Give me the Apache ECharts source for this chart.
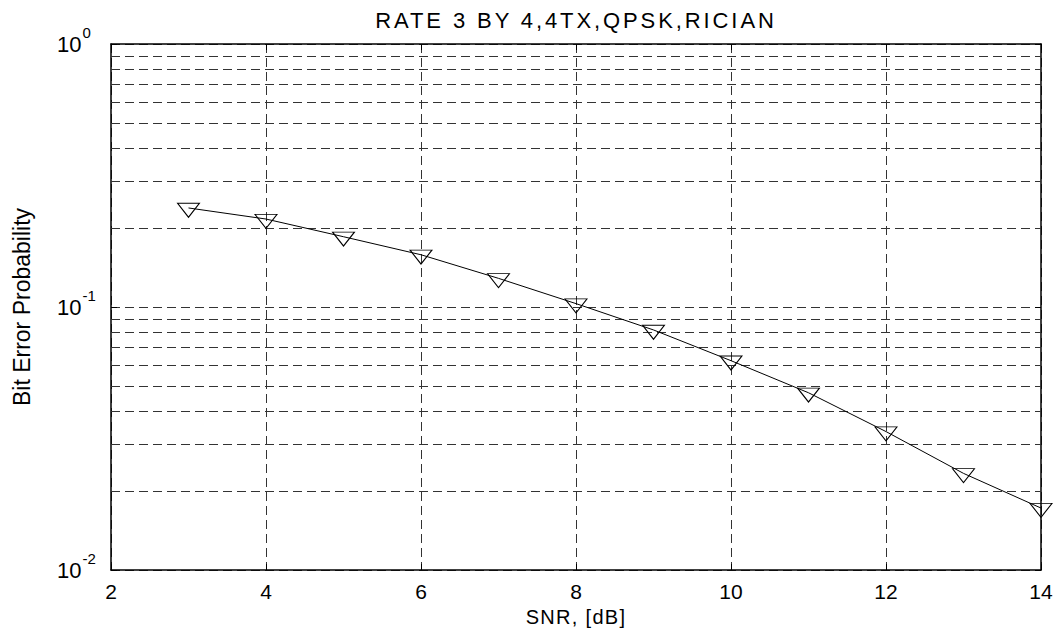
<!DOCTYPE html>
<html>
<head>
<meta charset="utf-8">
<script src="https://cdn.jsdelivr.net/npm/echarts@6/dist/echarts.min.js"></script>
<style>
html,body{margin:0;padding:0;background:#fff;}
#chart{width:1058px;height:638px;}
</style>
</head>
<body>
<div id="chart"></div>
<script>
const titleText = 'RATE 3 BY 4,4TX,QPSK,RICIAN';
const xLabel = 'SNR, [dB]';
const yLabel = 'Bit Error Probability';
const snr = [3, 4, 5, 6, 7, 8, 9, 10, 11, 12, 13, 14];
const ber = [0.238, 0.216, 0.185, 0.158, 0.1285, 0.103, 0.0818, 0.0625, 0.0472, 0.0336, 0.0233, 0.0172];
const xTicks = [2, 4, 6, 8, 10, 12, 14];
const yMinorGrid = [0.02, 0.03, 0.04, 0.05, 0.06, 0.07, 0.08, 0.09, 0.2, 0.3, 0.4, 0.5, 0.6, 0.7, 0.8, 0.9];

const FONT = 'Liberation Sans';
const gridDash = { color: '#333', width: 1, type: [9, 5] };

const chart = echarts.init(document.getElementById('chart'), null, { renderer: 'svg' });
const seriesData = snr.map((x, i) => [x, ber[i]]);

const option = {
  animation: false,
  backgroundColor: '#fff',
  title: {
    text: titleText,
    left: 571, top: 4, textAlign: 'center',
    textStyle: { fontFamily: FONT, fontSize: 22, fontWeight: 'normal', color: '#000' }
  },
  grid: { left: 111, right: 17, top: 44, bottom: 68, outerBoundsMode: 'none' },
  xAxis: [{
    type: 'value', min: xTicks[0], max: xTicks[xTicks.length - 1], interval: 2,
    position: 'bottom',
    name: xLabel, nameLocation: 'middle', nameGap: 32,
    nameTextStyle: { fontFamily: FONT, fontSize: 20, color: '#000' },
    axisLine: { show: true, lineStyle: { color: '#000', width: 1.5 } },
    axisTick: { show: true, inside: true, length: 6, lineStyle: { color: '#000' } },
    axisLabel: { fontFamily: FONT, fontSize: 21, color: '#000', margin: 11 },
    splitLine: { show: true, lineStyle: gridDash }
  }, {
    type: 'value', min: xTicks[0], max: xTicks[xTicks.length - 1], interval: 2,
    position: 'top',
    axisLine: { show: true, onZero: false, lineStyle: { color: '#000', width: 1.5 } },
    axisTick: { show: true, inside: true, length: 6, lineStyle: { color: '#000' } },
    axisLabel: { show: false },
    splitLine: { show: false }
  }],
  yAxis: [{
    type: 'log', logBase: 10, min: 0.01, max: 1,
    position: 'left',
    name: yLabel, nameLocation: 'middle', nameGap: 78,
    nameTextStyle: { fontFamily: FONT, fontSize: 23, color: '#000' },
    axisLine: { show: true, lineStyle: { color: '#000', width: 1.5 } },
    axisTick: { show: true, inside: true, length: 6, lineStyle: { color: '#000' } },
    axisLabel: {
      margin: 54,
      align: 'left',
      formatter: function (v) {
        const e = Math.round(Math.log10(v));
        return '{b|10}{s|' + e + '}';
      },
      rich: {
        b: { fontFamily: FONT, fontSize: 22, color: '#000' },
        s: { fontFamily: FONT, fontSize: 15, color: '#000', padding: [0, 0, 24, 1] }
      }
    },
    splitLine: { show: true, lineStyle: gridDash }
  }, {
    type: 'log', logBase: 10, min: 0.01, max: 1,
    position: 'right',
    axisLine: { show: true, lineStyle: { color: '#000', width: 1.5 } },
    axisTick: { show: true, inside: true, length: 6, lineStyle: { color: '#000' } },
    axisLabel: { show: false },
    splitLine: { show: false }
  }],
  series: [{
    type: 'line',
    xAxisIndex: 0, yAxisIndex: 0,
    data: seriesData,
    showSymbol: true,
    symbol: 'path://M0,0L22,0L11,14Z',
    symbolSize: [22, 14],
    symbolOffset: [0, 2.3],
    symbolKeepAspect: false,
    lineStyle: { color: '#000', width: 1 },
    itemStyle: { color: 'rgba(255,255,255,0)', borderColor: '#000', borderWidth: 1 },
    emphasis: { disabled: true },
    silent: true,
    z: 5,
    markLine: {
      silent: true,
      symbol: ['none', 'none'],
      label: { show: false },
      lineStyle: gridDash,
      emphasis: { disabled: true },
      data: yMinorGrid.map(v => ({ yAxis: v }))
    }
  }]
};
chart.setOption(option);

function applySpacing() {
  const texts = document.querySelectorAll('#chart svg text');
  texts.forEach(t => {
    const c = t.textContent;
    if (c === titleText) t.style.letterSpacing = '2.9px';
    else if (c === xLabel) t.style.letterSpacing = '1.3px';
  });
}
applySpacing();
chart.on('finished', applySpacing);
</script>
</body>
</html>
